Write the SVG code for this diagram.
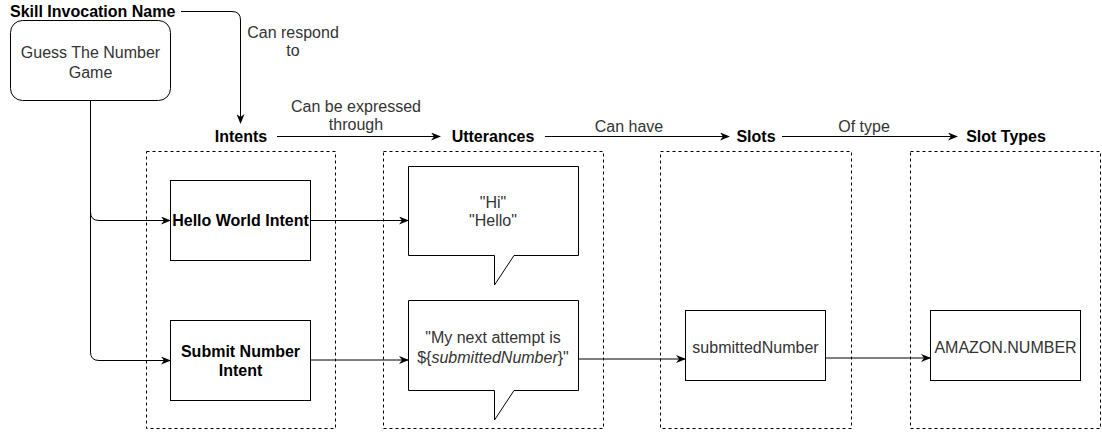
<svg xmlns="http://www.w3.org/2000/svg" width="1102" height="432" viewBox="0 0 1102 432">
<style>
  text { font-family: "Liberation Sans", Arial, sans-serif; font-size: 16px; fill: #333; }
  .b { font-weight: bold; fill: #000; }
  .box { fill: #fff; stroke: #000; stroke-width: 1; }
  .grp { fill: none; stroke: #000; stroke-width: 1; stroke-dasharray: 3 3; }
  .edge { fill: none; stroke: #000; stroke-width: 1; marker-end: url(#arr); }
</style>
<defs>
  <marker id="arr" viewBox="0 0 10 8" refX="9" refY="4" markerWidth="10" markerHeight="8" markerUnits="userSpaceOnUse" orient="auto">
    <path d="M0,0 L10,4 L0,8 L3,4 Z" fill="#000"/>
  </marker>
</defs>
<rect width="1102" height="432" fill="#fff"/>

<g id="groups">
  <rect id="grp-intents" class="grp" x="146.5" y="151.5" width="189" height="277"/>
  <rect id="grp-utterances" class="grp" x="383.5" y="151.5" width="220" height="277"/>
  <rect id="grp-slots" class="grp" x="660.5" y="151.5" width="191" height="277"/>
  <rect id="grp-slottypes" class="grp" x="910.5" y="151.5" width="190" height="277"/>
</g>

<g id="connectors">
  <path class="edge" d="M181,11.5 H232 Q240.5,11.5 240.5,20 V123"/>
  <path class="edge" d="M277,136.5 H440"/>
  <path class="edge" d="M545,136.5 H729"/>
  <path class="edge" d="M782,136.5 H957"/>
  <path class="edge" d="M90.5,100 V212 Q90.5,220.5 99,220.5 H170"/>
  <path class="edge" d="M90.5,100 V352 Q90.5,360.5 99,360.5 H170"/>
  <path class="edge" d="M310,220.5 H408"/>
  <path class="edge" d="M310,360 H408"/>
  <path class="edge" d="M578,359 H685"/>
  <path class="edge" d="M826,358 H930"/>
</g>

<g id="edge-labels">
  <text x="293" y="37.5" text-anchor="middle">Can respond</text>
  <text x="293" y="56" text-anchor="middle">to</text>
  <text x="356" y="111.5" text-anchor="middle">Can be expressed</text>
  <text x="356" y="130" text-anchor="middle">through</text>
  <text x="629" y="132" text-anchor="middle">Can have</text>
  <text x="864" y="132" text-anchor="middle">Of type</text>
</g>

<g id="skill-invocation-name">
  <text class="b" x="10" y="17">Skill Invocation Name</text>
</g>
<g id="guess-the-number-game">
  <rect class="box" x="10.5" y="20.5" width="160" height="80" rx="12" ry="12"/>
  <text x="90.5" y="57.5" text-anchor="middle">Guess The Number</text>
  <text x="90.5" y="77.5" text-anchor="middle">Game</text>
</g>
<g id="intents-label"><text class="b" x="241" y="141.5" text-anchor="middle">Intents</text></g>
<g id="utterances-label"><text class="b" x="493" y="141.5" text-anchor="middle">Utterances</text></g>
<g id="slots-label"><text class="b" x="756" y="141.5" text-anchor="middle">Slots</text></g>
<g id="slottypes-label"><text class="b" x="1006" y="141.5" text-anchor="middle">Slot Types</text></g>

<g id="hello-world-intent">
  <rect class="box" x="170.5" y="180.5" width="140" height="80"/>
  <text class="b" x="240.5" y="226" text-anchor="middle">Hello World Intent</text>
</g>
<g id="submit-number-intent">
  <rect class="box" x="170.5" y="320.5" width="140" height="80"/>
  <text class="b" x="240.5" y="357" text-anchor="middle">Submit Number</text>
  <text class="b" x="240.5" y="376" text-anchor="middle">Intent</text>
</g>

<g id="utterance-hello">
  <path class="box" d="M408.5,166.5 H578.5 V255.5 H514 L494.5,285 V255.5 H408.5 Z"/>
  <text x="493" y="208" text-anchor="middle">"Hi"</text>
  <text x="493" y="226" text-anchor="middle">"Hello"</text>
</g>
<g id="utterance-submit">
  <path class="box" d="M408.5,300.5 H578.5 V390.5 H514 L494.5,420 V390.5 H408.5 Z"/>
  <text x="493" y="343" text-anchor="middle">"My next attempt is</text>
  <text x="493" y="363" text-anchor="middle">${<tspan font-style="italic">submittedNumber</tspan>}"</text>
</g>

<g id="submitted-number">
  <rect class="box" x="685.5" y="310.5" width="140" height="70"/>
  <text x="755.5" y="352.5" text-anchor="middle">submittedNumber</text>
</g>
<g id="amazon-number">
  <rect class="box" x="930.5" y="310.5" width="150" height="70"/>
  <text x="1005.5" y="352.5" text-anchor="middle">AMAZON.NUMBER</text>
</g>
</svg>
